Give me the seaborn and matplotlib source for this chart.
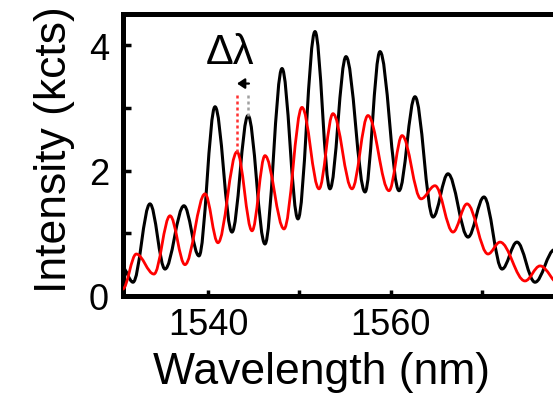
import matplotlib
matplotlib.use("Agg")
import matplotlib.pyplot as plt
from matplotlib.path import Path
from matplotlib.patches import PathPatch
import pandas as pd
import seaborn as sns

# Fringe extrema of the two spectra (wavelength in nm, intensity in kcts)
black_wavelength = [1530.6, 1531.74, 1533.60, 1535.25, 1537.33, 1538.98, 1540.74,
                    1542.60, 1544.36, 1546.22, 1548.09, 1549.84, 1551.71, 1553.35,
                    1555.11, 1557.20, 1558.84, 1560.93, 1562.68, 1564.66, 1566.30,
                    1568.50, 1570.25, 1572.23, 1573.87, 1575.85, 1578.0]
black_intensity = [0.45, 0.22, 1.47, 0.43, 1.44, 0.64, 3.02,
                   1.02, 2.88, 0.83, 3.63, 1.23, 4.22, 1.71,
                   3.82, 1.66, 3.90, 1.68, 3.18, 1.26, 1.95,
                   0.94, 1.58, 0.43, 0.86, 0.22, 0.74]

red_wavelength = [1530.6, 1532.1, 1534.04, 1535.80, 1537.44, 1539.64, 1541.06,
                  1543.15, 1544.80, 1546.22, 1548.31, 1550.28, 1552.15, 1553.68,
                  1555.77, 1557.52, 1559.83, 1561.26, 1563.34, 1564.88, 1566.85,
                  1568.39, 1570.69, 1572.01, 1574.75, 1576.40, 1578.6]
red_intensity = [0.11, 0.67, 0.35, 1.28, 0.50, 1.63, 0.85,
                 2.30, 1.04, 2.24, 1.07, 3.01, 1.71, 2.91,
                 1.71, 2.88, 1.68, 2.56, 1.55, 1.76, 1.02,
                 1.47, 0.67, 0.86, 0.24, 0.48, 0.18]

# Axis ticks
x_ticks = [1540, 1550, 1560, 1570]
x_tick_labels = ["1540", "", "1560", ""]
y_ticks = [0, 1, 2, 3, 4]
y_tick_labels = ["0", "", "2", "", "4"]

# Fringe-spacing marker between neighbouring peaks
delta_red_peak = (1543.15, 2.30)
delta_black_peak = (1544.36, 2.88)
delta_top = 3.26
delta_arrow_y = 3.39
delta_label = "Δλ"


def smooth_path(xs, ys, k=0.36):
    """Cubic Bezier path through the extrema with flat tangents at each one."""
    verts = [(xs[0], ys[0])]
    codes = [Path.MOVETO]
    for x0, y0, x1, y1 in zip(xs[:-1], ys[:-1], xs[1:], ys[1:]):
        dx = x1 - x0
        verts += [(x0 + k * dx, y0), (x1 - k * dx, y1), (x1, y1)]
        codes += [Path.CURVE4] * 3
    return Path(verts, codes)


sns.set_style("ticks")
plt.rcParams["font.family"] = ["Liberation Sans", "DejaVu Sans"]
plt.rcParams["text.color"] = "black"
plt.rcParams["axes.labelcolor"] = "black"
plt.rcParams["xtick.color"] = "black"
plt.rcParams["ytick.color"] = "black"

fig = plt.figure(figsize=(5.53, 4.02), dpi=100)
ax = fig.add_axes([0.2224, 0.2612, 0.7993, 0.7015])

ax.add_patch(PathPatch(smooth_path(black_wavelength, black_intensity),
                       fill=False, edgecolor="black", lw=2.2,
                       joinstyle="round", capstyle="round", zorder=3))
ax.add_patch(PathPatch(smooth_path(red_wavelength, red_intensity),
                       fill=False, edgecolor="#ff0000", lw=2.0,
                       joinstyle="round", capstyle="round", zorder=4))

# Dotted guides from each peak up to the arrow
red_guide = pd.DataFrame({"x": [delta_red_peak[0]] * 2,
                          "y": [delta_red_peak[1], delta_top]})
black_guide = pd.DataFrame({"x": [delta_black_peak[0]] * 2,
                            "y": [delta_black_peak[1], delta_top]})
sns.lineplot(data=red_guide, x="x", y="y", ax=ax, color="#ff3030",
             lw=1.8, linestyle=(0, (1.2, 1.2)), estimator=None, sort=False,
             zorder=5)
sns.lineplot(data=black_guide, x="x", y="y", ax=ax, color="#a0a0a0",
             lw=1.8, linestyle=(0, (1.2, 1.2)), estimator=None, sort=False,
             zorder=5)
ax.annotate("", xy=(delta_red_peak[0], delta_arrow_y),
            xytext=(delta_black_peak[0] + 0.1, delta_arrow_y),
            arrowprops=dict(arrowstyle="-|>,head_length=0.45,head_width=0.3",
                            color="black", lw=1.6, shrinkA=0, shrinkB=0),
            zorder=6)
ax.text(1542.4, 3.9, delta_label, fontsize=30, ha="center", va="center",
        color="black")

ax.set_xlim(1530.64, 1579.14)
ax.set_ylim(0, 4.5)
ax.set_xticks(x_ticks)
ax.set_xticklabels(x_tick_labels)
ax.set_yticks(y_ticks)
ax.set_yticklabels(y_tick_labels)
ax.tick_params(axis="both", direction="in", labelsize=26, width=2.5,
               colors="black", labelcolor="black")
ax.tick_params(axis="x", length=4, pad=8)
ax.tick_params(axis="y", length=6, pad=10)

for side in ["top", "left", "bottom", "right"]:
    ax.spines[side].set_linewidth(3.6)
    ax.spines[side].set_color("black")

ax.set_xlabel("Wavelength (nm)", fontsize=32, color="black")
ax.set_ylabel("Intensity (kcts)", fontsize=32, color="black")
ax.xaxis.set_label_coords(0.45, -0.195)
ax.yaxis.set_label_coords(-0.109, 0.521)

fig.savefig("out.png", dpi=100)
